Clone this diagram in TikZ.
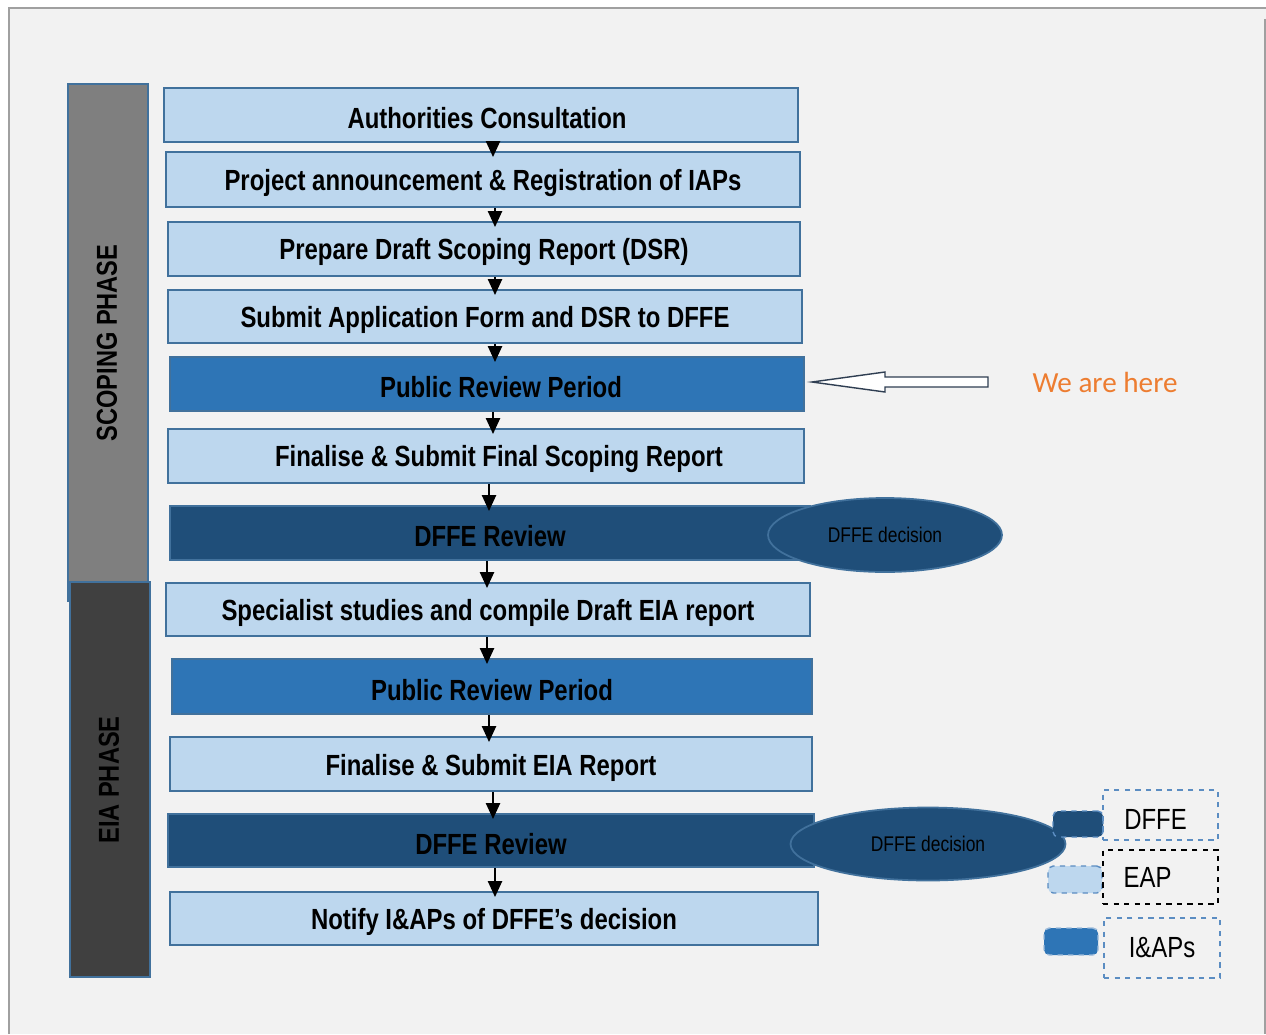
\documentclass[tikz,border=0pt]{standalone}
\usepackage{fontspec}
\setmainfont{Liberation Sans}
\newfontfamily\narrowfont{Liberation Sans}[FakeStretch=0.82]
\newfontfamily\calfont{Carlito}
\usetikzlibrary{arrows.meta,fit,shapes.geometric}
\definecolor{pagebg}{HTML}{F2F2F2}
\definecolor{framegray}{HTML}{A0A0A0}
\definecolor{lightfill}{HTML}{BDD7EE}
\definecolor{midfill}{HTML}{2E75B6}
\definecolor{darkfill}{HTML}{1F4E79}
\definecolor{edgeblue}{HTML}{41719C}
\definecolor{dashblue}{HTML}{5B8DC2}
\definecolor{scopegray}{HTML}{7F7F7F}
\definecolor{eiagray}{HTML}{404040}
\definecolor{hereorange}{HTML}{ED7D31}
\definecolor{arrowedge}{HTML}{2F3E52}

\tikzset{
  stepbox/.style={draw=edgeblue, line width=1.3pt, inner sep=0pt},
  steptxt/.style={font=\narrowfont\bfseries\fontsize{16.6}{20}\selectfont, yshift=-0.07cm},
  lightbox/.style={stepbox, fill=lightfill},
  midbox/.style={stepbox, fill=midfill},
  darkbox/.style={stepbox, fill=darkfill},
  phasebar/.style={draw=edgeblue, line width=1.3pt, inner sep=0pt},
  phasetxt/.style={rotate=90, font=\narrowfont\bfseries\fontsize{16.4}{19}\selectfont},
  flow/.style={-{Triangle[length=9pt,width=8pt]}, line width=1pt, shorten >=-3.5pt},
  decision/.style={ellipse, draw=edgeblue, fill=darkfill, line width=1pt, inner sep=0pt,
    font=\narrowfont\fontsize{12.1}{15}\selectfont},
  swatch/.style={draw=dashblue, dashed, line width=0.8pt, rounded corners=3pt, inner sep=0pt},
  keybox/.style={dashed, line width=0.7pt, inner sep=0pt},
  keytxt/.style={font=\narrowfont\fontsize{16.6}{20}\selectfont}
}

\begin{document}
\begin{tikzpicture}[x=0.02cm, y=-0.02cm]
  \useasboundingbox (0,0) rectangle (1266,1034);
  % Page
  \fill[white] (0,0) rectangle (1266,1034);
  \fill[pagebg] (9,8) rectangle (1266,1034);
  \draw[framegray, line width=1.7pt] (9,1034) -- (9,8) -- (1266,8);
  \draw[framegray, line width=0.8pt] (1265,19) -- (1265,1034);
  % Phases
  \node[phasebar, fill=scopegray, fit={(68,84) (148,601)}] (scoping) {};
  \node[phasebar, fill=eiagray, fit={(70,582) (150,977)}] (eia) {};
  \node[phasetxt] (scopingtxt) at (107,343) {SCOPING PHASE};
  \node[phasetxt] (eiatxt) at (109,780) {EIA PHASE};
  % Steps
  \node[lightbox, fit={(164,88) (798,142)}, label={[steptxt, xshift=0.12cm]center:Authorities Consultation}] (b1) {};
  \node[lightbox, fit={(166,152) (800,207)}, label={[steptxt]center:Project announcement \& Registration of IAPs}] (b2) {};
  \node[lightbox, fit={(168,222) (800,276)}, label={[steptxt]center:Prepare Draft Scoping Report (DSR)}] (b3) {};
  \node[lightbox, fit={(168,290) (802,343)}, label={[steptxt]center:Submit Application Form and DSR to DFFE}] (b4) {};
  \node[midbox, fit={(170,357) (804,411)}, label={[steptxt, xshift=0.28cm]center:Public Review Period}] (b5) {};
  \node[lightbox, fit={(168,429) (804,483)}, label={[steptxt, xshift=0.26cm]center:Finalise \& Submit Final Scoping Report}] (b6) {};
  \node[darkbox, fit={(170,506) (810,560)}, label={[steptxt]center:DFFE Review}] (b7) {};
  \node[lightbox, fit={(166,583) (810,636)}, label={[steptxt]center:Specialist studies and compile Draft EIA report}] (b8) {};
  \node[midbox, fit={(172,659) (812,714)}, label={[steptxt]center:Public Review Period}] (b9) {};
  \node[lightbox, fit={(170,737) (812,791)}, label={[steptxt]center:Finalise \& Submit EIA Report}] (b10) {};
  \node[darkbox, fit={(168,814) (814,867)}, label={[steptxt]center:DFFE Review}] (b11) {};
  \node[lightbox, fit={(170,892) (818,945)}, label={[steptxt]center:Notify I\&APs of DFFE’s decision}] (b12) {};
  % Decisions
  \node[decision, minimum width=4.68cm, minimum height=1.48cm] (d1) at (885,535) {DFFE decision};
  \node[decision, minimum width=5.5cm, minimum height=1.46cm] (d2) at (928,844) {DFFE decision};
  % Flow arrows
  \foreach \a/\b/\x in {b1/b2/493, b2/b3/495, b3/b4/495, b4/b5/495, b5/b6/493, b6/b7/489,
                        b7/b8/487, b8/b9/487, b9/b10/489, b10/b11/493, b11/b12/495} {
    \path (\x,0) coordinate (ax);
    \draw[flow] (\a.south -| ax) -- (\b.north -| ax);
  }
  % We are here
  \node[font=\calfont\fontsize{16.6}{20}\selectfont, text=hereorange] (here) at (1105,382) {We are here};
  \coordinate (tip) at (812,382);
  \draw[arrowedge, fill=white, line width=0.8pt]
    (tip) -- (885,372) -- (885,377) -- (988,377) -- (988,387) -- (885,387) -- (885,392) -- cycle;
  % Legend
  \node[swatch, fill=darkfill, fit={(1053,811) (1103,837)}] (s1) {};
  \node[keybox, draw=dashblue, fit={(1103,790) (1218,840)}, label={[keytxt, xshift=-0.1cm, yshift=-0.08cm]center:DFFE}] (k1) {};
  \node[swatch, fill=lightfill, fit={(1048,866) (1102,893)}] (s2) {};
  \node[keybox, draw=black, fit={(1103,850) (1218,904)}, label={[keytxt, xshift=-0.26cm]center:EAP}] (k2) {};
  \node[swatch, fill=midfill, draw=dashblue!60, fit={(1044,928) (1098,955)}] (s3) {};
  \node[keybox, draw=dashblue, fit={(1104,918) (1220,978)}, label={[keytxt]center:I\&APs}] (k3) {};
\end{tikzpicture}
\end{document}
